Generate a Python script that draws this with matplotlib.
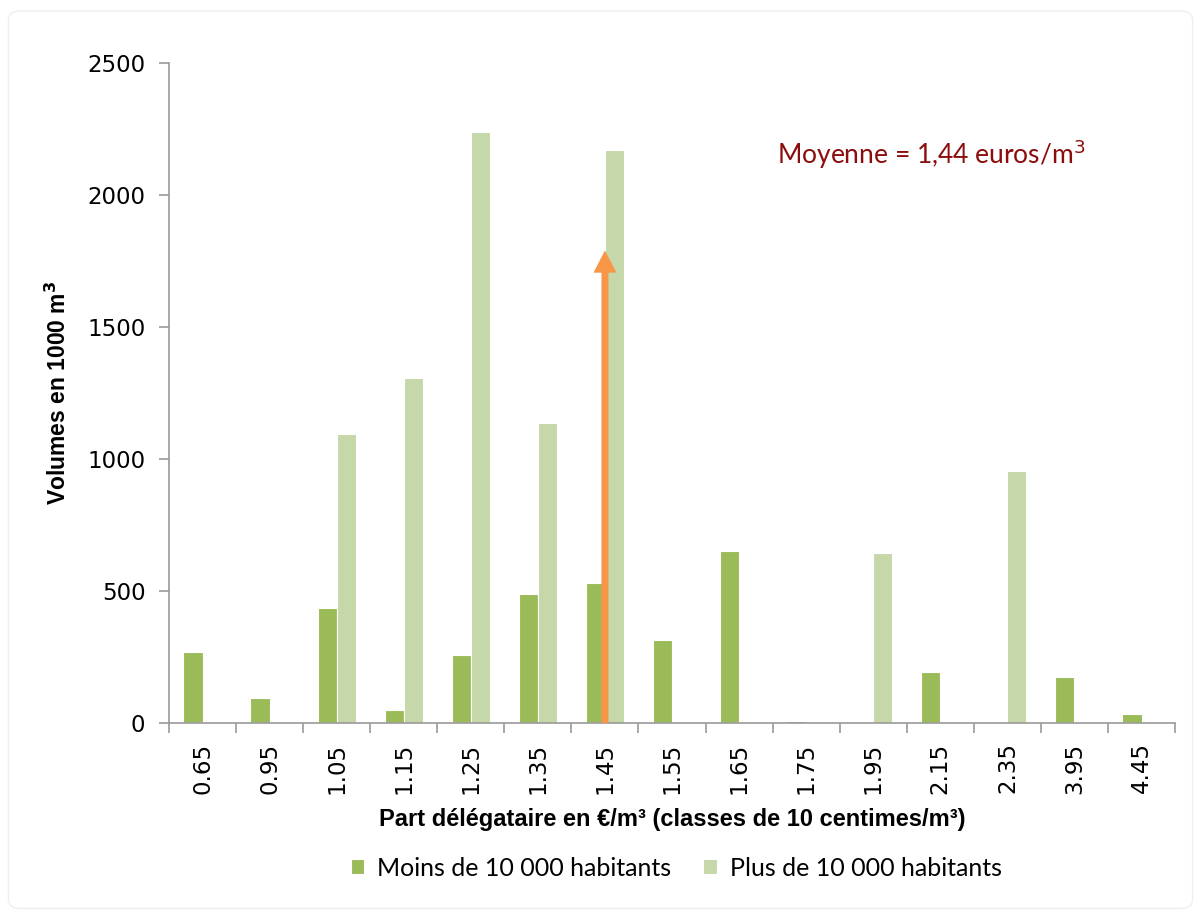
import numpy as np
import matplotlib
matplotlib.use("Agg")
from matplotlib import pyplot as plt
from matplotlib.patches import FancyBboxPatch

# classes de prix (euros/m3)
classes = ['0.65', '0.95', '1.05', '1.15', '1.25', '1.35', '1.45', '1.55',
           '1.65', '1.75', '1.95', '2.15', '2.35', '3.95', '4.45']
# volumes en 1000 m3
moins_10000 = [270, 95, 436, 49, 258, 489, 531, 315, 652, 8, 0, 193, 0, 175, 34]
plus_10000 = [0, 0, 1096, 1305, 2238, 1138, 2170, 0, 0, 0, 645, 0, 956, 0, 0]

moyenne_label = "Moyenne = 1,44 euros/m$^3$"
arrow_class = '1.45'
arrow_top = 1790

c_dark = '#9BBB59'
c_light = '#C6D7AA'
c_axis = '#9A9A9A'

fig = plt.figure(figsize=(12.01, 9.13), dpi=100)
ax = fig.add_axes([0.1407, 0.2081, 0.8377, 0.7229])

# cadre léger autour de la figure
fig.patches.append(FancyBboxPatch((0.007, 0.005), 0.986, 0.983,
                                  boxstyle="round,pad=0,rounding_size=0.01",
                                  transform=fig.transFigure, facecolor='none',
                                  edgecolor='#EFEFEF', linewidth=1))

x = np.arange(len(classes))
w = 0.285
ax.bar(x - w / 2, moins_10000, width=w, color=c_dark, edgecolor='white',
       linewidth=0.8, label='Moins de 10 000 habitants', zorder=2)
ax.bar(x + w / 2, plus_10000, width=w, color=c_light, edgecolor='white',
       linewidth=0.8, label='Plus de 10 000 habitants', zorder=2)

# flèche de la moyenne
xa = classes.index(arrow_class)
ax.annotate('', xy=(xa, arrow_top), xytext=(xa, 0),
            arrowprops=dict(width=5, headwidth=16.5, headlength=16,
                            facecolor='#F79646', edgecolor='none',
                            shrink=0),
            zorder=3)

ax.text(0.6045, 0.861, moyenne_label, transform=ax.transAxes, fontsize=19,
        color='#8B0D0D', family='Lato', ha='left', va='center')

ax.set_xlim(-0.5, len(classes) - 0.5)
ax.set_ylim(0, 2500)
ax.set_yticks(np.arange(0, 2501, 500))
ax.set_xticks(x)
ax.set_xticklabels(classes, rotation=90)
ax.set_xticks(np.arange(-0.5, len(classes)), minor=True)
ax.tick_params(axis='x', which='major', length=0, pad=14, labelsize=16.5)
ax.tick_params(axis='x', which='minor', length=7, color=c_axis, width=1.2)
ax.tick_params(axis='y', length=7, color=c_axis, width=1.2, labelsize=16.5, pad=10)

for s in ['top', 'right']:
    ax.spines[s].set_visible(False)
for s in ['left', 'bottom']:
    ax.spines[s].set_color(c_axis)
    ax.spines[s].set_linewidth(1.2)

ax.set_ylabel("Volumes en 1000 m$^\\mathbf{3}$", fontsize=16.5, fontweight='bold',
              family='Liberation Sans', labelpad=12)
ax.set_xlabel("Part délégataire en €/m³ (classes de 10 centimes/m³)",
              fontsize=17, fontweight='bold', family='Liberation Sans', labelpad=10)

ax.legend(loc='center', bbox_to_anchor=(0.563, 1 - 868 / 913),
          bbox_transform=fig.transFigure, ncol=2,
          frameon=False, handlelength=0.55, handleheight=0.55,
          columnspacing=1.3, handletextpad=0.5, prop={'family': 'Lato', 'size': 18})

fig.savefig('out.png', dpi=100)
